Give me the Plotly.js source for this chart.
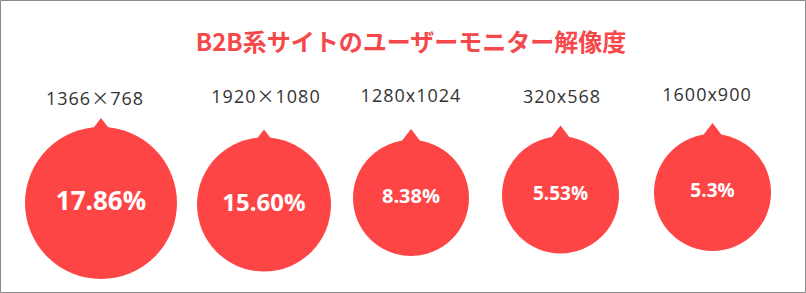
<!DOCTYPE html>
<html>
<head>
<meta charset="utf-8">
<script src="https://cdn.plot.ly/plotly-3.0.1.min.js"></script>
<style>html,body{margin:0;padding:0;background:#fff;}#chart{width:806px;height:293px;}</style>
</head>
<body>
<div id="chart"></div>
<script>
// ---- data ----
const resolutions = ['1366×768', '1920×1080', '1280x1024', '320x568', '1600x900'];
const shares = [17.86, 15.60, 8.38, 5.53, 5.3];
const shareLabels = ['17.86%', '15.60%', '8.38%', '5.53%', '5.3%'];
const chartTitle = 'B2B系サイトのユーザーモニター解像度';

// ---- layout (pixel placement) ----
const centerX = [101, 264, 411, 560.5, 712.5];
const centerY = [203, 204.5, 198, 195, 192.5];
const diameters = [152, 134, 116, 117, 117];
const labelX = [95, 266, 411, 562, 707];
const labelY = [100, 98, 97, 98, 96];
const pctFontSize = [26, 24, 20, 19, 19];
const tipExtend = [9, 8, 11, 11, 11];

const RED = '#fe4546';
// equilateral triangle marker: height = 1.5 r, base sits 3px inside the circle
const triSize = tipExtend.map(e => 2 * (e + 3) / 1.5);
const triX = centerX.slice();
const triY = centerY.map((cy, i) => cy - diameters[i] / 2 - tipExtend[i] + triSize[i] / 2);

const labelText = resolutions.map(s =>
  s.replace('×', '<span style="font-family:\'Noto Sans CJK JP\'">×</span>'));

const traces = [
  { // pointer triangles
    type: 'scatter', mode: 'markers', x: triX, y: triY,
    marker: {symbol: 'triangle-up', size: triSize, color: RED, line: {width: 0}, opacity: 1},
    hoverinfo: 'skip'
  },
  { // circles with percentages
    type: 'scatter', mode: 'markers+text', x: centerX, y: centerY,
    marker: {symbol: 'circle', size: diameters, sizemode: 'diameter', color: RED, line: {width: 0}, opacity: 1},
    text: shareLabels, textposition: 'middle center',
    textfont: {family: 'Open Sans, Noto Sans, sans-serif', size: pctFontSize, color: '#ffffff', weight: 'bold'},
    customdata: shares, hovertemplate: '%{customdata}%<extra></extra>'
  },
  { // resolution labels
    type: 'scatter', mode: 'text', x: labelX, y: labelY,
    text: labelText, textposition: 'middle center',
    textfont: {family: 'Open Sans, Noto Sans CJK JP, sans-serif', size: 18, color: '#333333'},
    hoverinfo: 'skip'
  }
];

const layout = {
  width: 806, height: 293, autosize: false,
  margin: {l: 0, r: 0, t: 0, b: 0, pad: 0},
  paper_bgcolor: '#ffffff', plot_bgcolor: '#ffffff',
  showlegend: false,
  xaxis: {range: [0, 806], visible: false, fixedrange: true},
  yaxis: {range: [293, 0], visible: false, fixedrange: true},
  title: {
    text: chartTitle, x: 411 / 806, xanchor: 'center', xref: 'paper',
    y: 1 - 43 / 293, yanchor: 'middle', yref: 'paper',
    font: {family: 'Noto Sans CJK JP, sans-serif', size: 24, color: '#f5484a', weight: 'bold'}
  },
  shapes: [{
    type: 'rect', xref: 'x', yref: 'y', x0: 0.5, x1: 805.5, y0: 0.5, y1: 292.5,
    line: {color: '#8a8a8a', width: 1}, fillcolor: 'rgba(0,0,0,0)', layer: 'above'
  }]
};

Plotly.newPlot('chart', traces, layout, {displayModeBar: false, staticPlot: true}).then(gd => {
  const tr = gd.querySelectorAll('.scatterlayer .trace');
  if (tr[2]) tr[2].querySelectorAll('text').forEach(t => { t.style.letterSpacing = '1px'; });
});
</script>
</body>
</html>
